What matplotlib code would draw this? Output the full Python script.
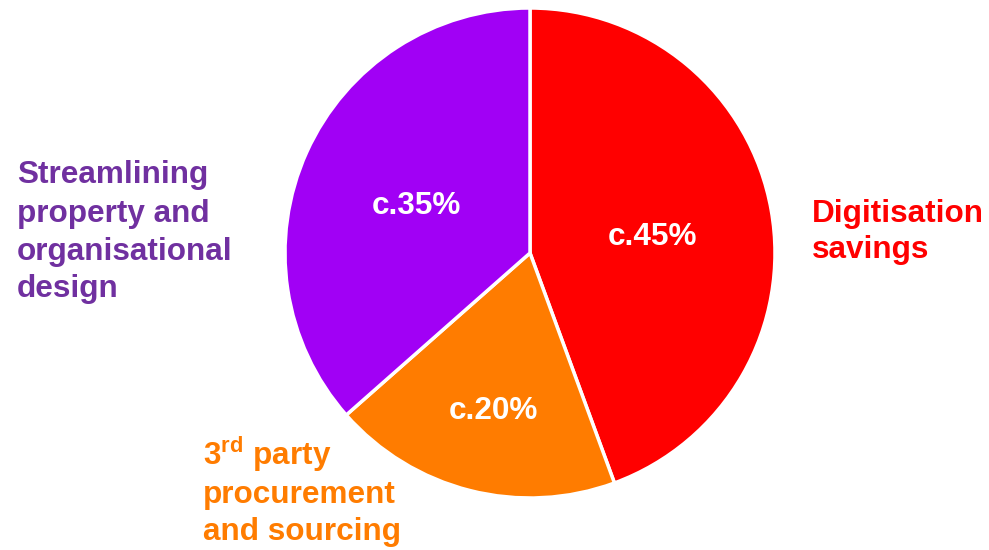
import matplotlib
matplotlib.use("Agg")
import matplotlib.pyplot as plt

plt.rcParams['font.family'] = ['Liberation Sans', 'DejaVu Sans']
plt.rcParams['mathtext.fontset'] = 'custom'
plt.rcParams['mathtext.rm'] = 'Liberation Sans:bold'
plt.rcParams['mathtext.bf'] = 'Liberation Sans:bold'

# Share of savings, clockwise from 12 o'clock ("c." = approximate)
categories = ["Digitisation savings",
              "3rd party procurement and sourcing",
              "Streamlining property and organisational design"]
values = [44.4, 19.1, 36.5]
value_labels = ["c.45%", "c.20%", "c.35%"]
slice_colors = ["#FF0000", "#FF7C00", "#A100F5"]
text_colors = ["#FF0000", "#FF7C00", "#7030A0"]

# Outside label lines for each category
label_lines = [
    ["Digitisation", "savings"],
    ["3$^{\\mathrm{rd}}$ party", "procurement", "and sourcing"],
    ["Streamlining", "property and", "organisational", "design"],
]

W, H = 989, 550
fig = plt.figure(figsize=(W / 100, H / 100), dpi=100)
ax = fig.add_axes([0, 0, 1, 1])

cx, cy, r = 530, H - 253, 245
wedges, _ = ax.pie(values, colors=slice_colors, startangle=90, counterclock=False,
                   center=(cx, cy), radius=r,
                   wedgeprops=dict(edgecolor="white", linewidth=2.5))
ax.set_xlim(0, W)
ax.set_ylim(0, H)
ax.set_aspect("equal")
ax.axis("off")

FS = 22.7

# Value labels inside slices (x centre, baseline y measured from top)
inner_pos = [(652.5, 245), (493, 419), (416, 214)]
for (x, y), lab in zip(inner_pos, value_labels):
    ax.text(x, H - y, lab, color="white", fontsize=FS, fontweight="bold",
            ha="center", va="baseline")

# Outside category labels (left x, baselines from top)
outer_pos = [(812, [222, 258]), (203, [465, 503, 540]), (17, [183, 222, 260, 297])]
for (x, ys), lines, col in zip(outer_pos, label_lines, text_colors):
    for y, line in zip(ys, lines):
        ax.text(x, H - y, line, color=col, fontsize=FS, fontweight="bold",
                ha="left", va="baseline")

fig.savefig("out.png", dpi=100)
